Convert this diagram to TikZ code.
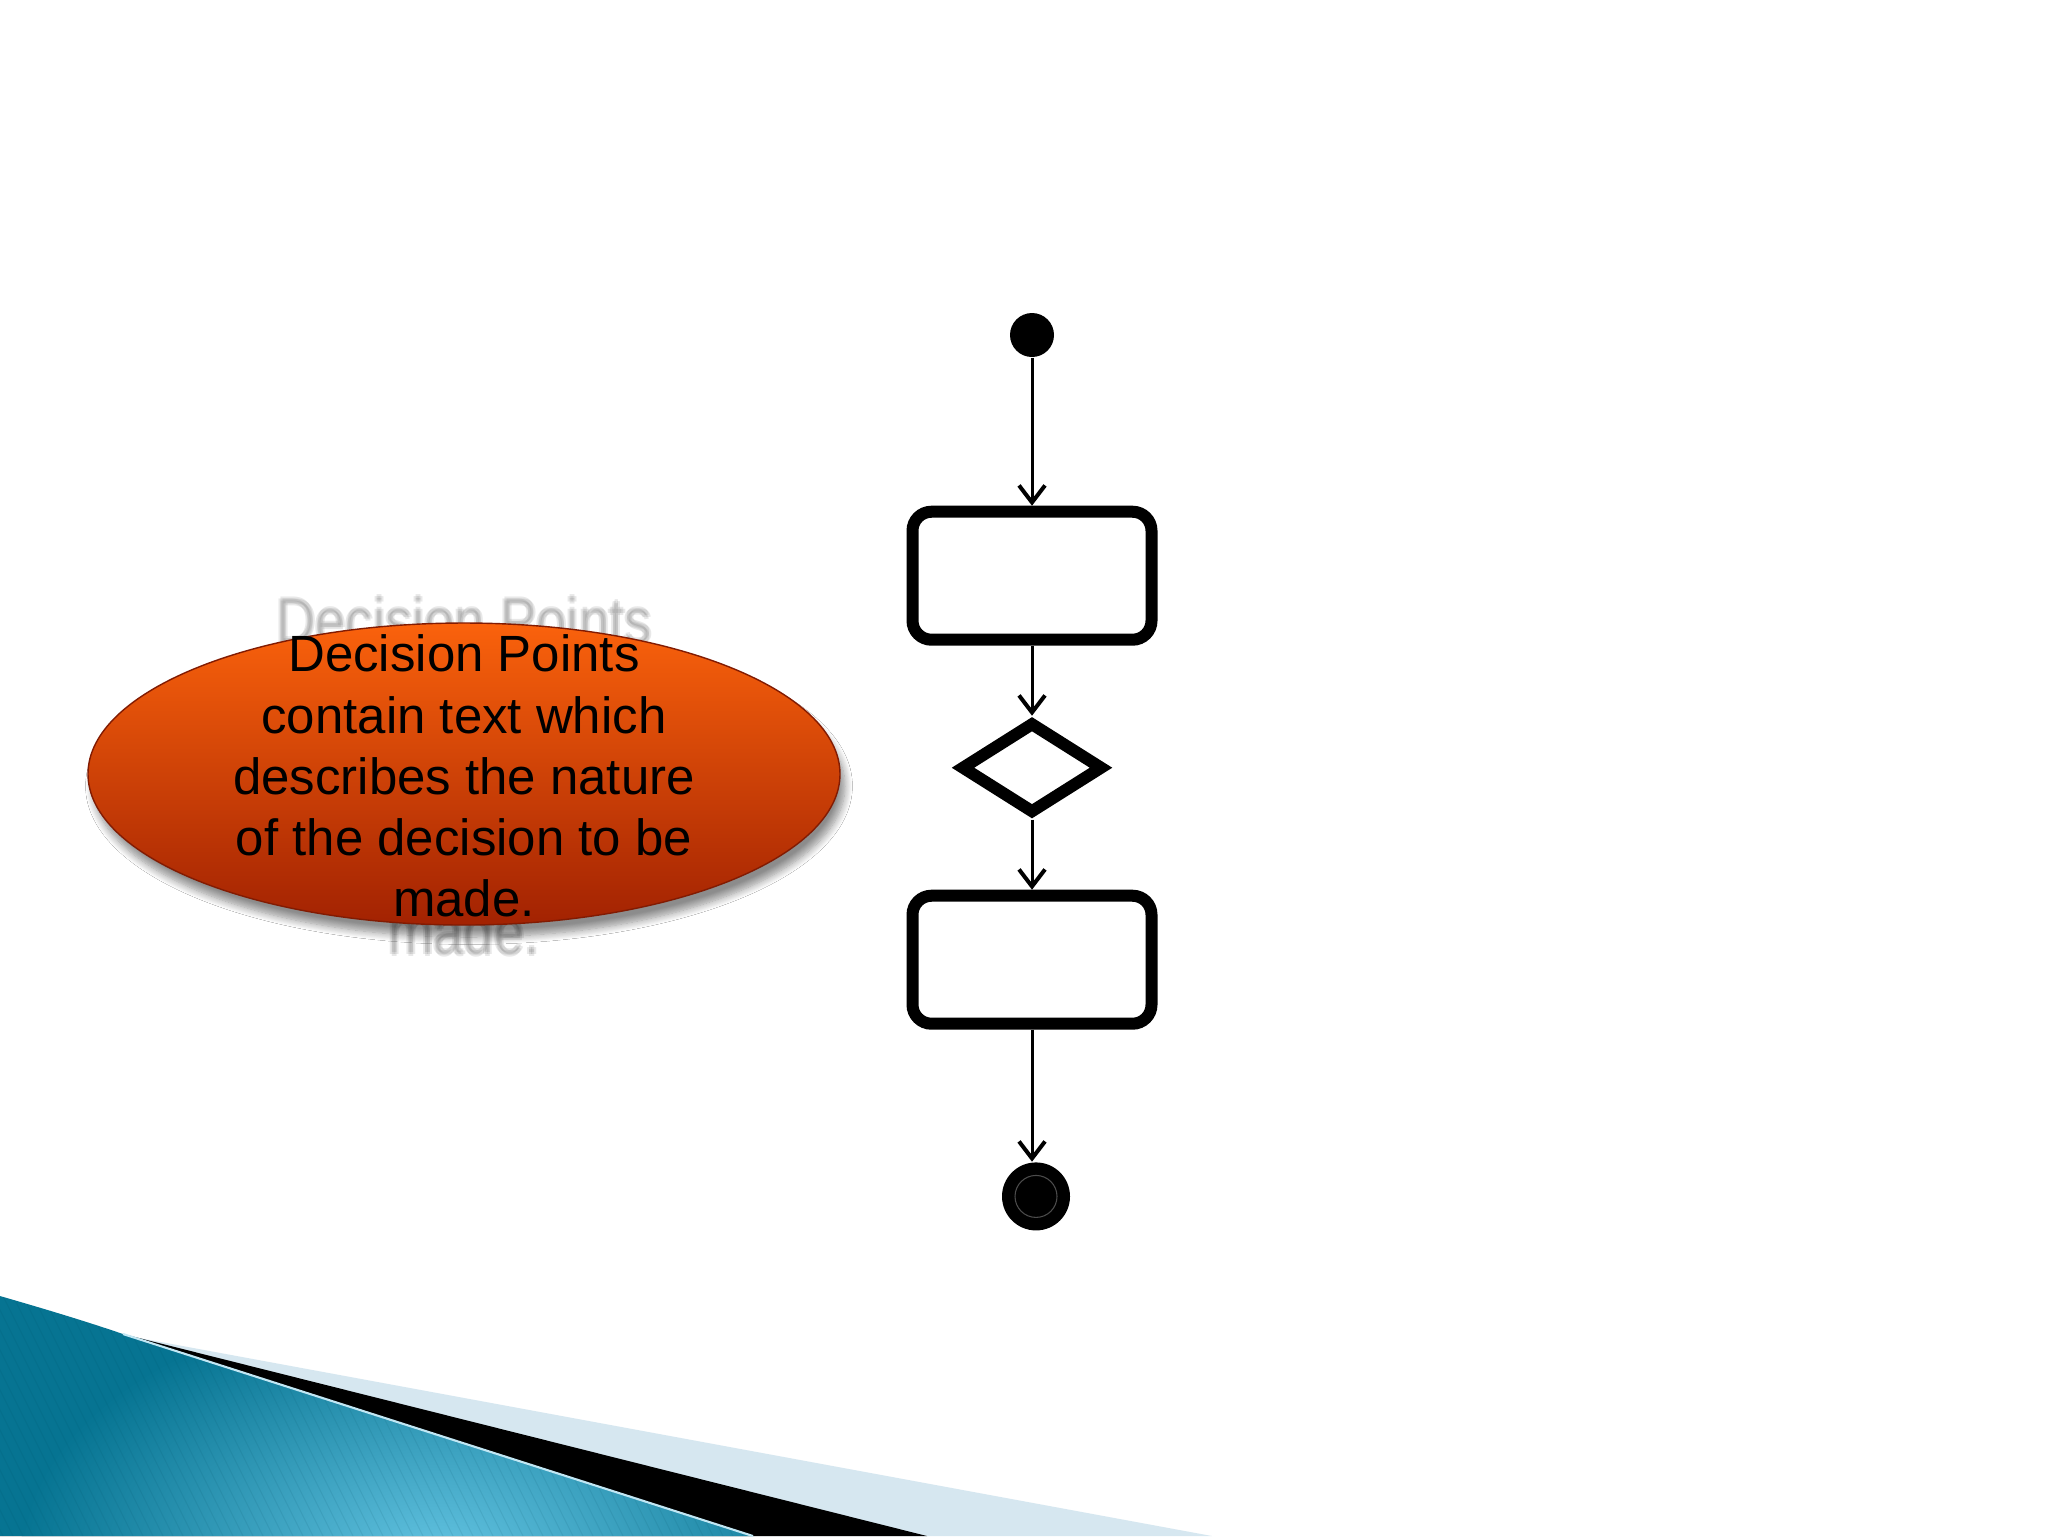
\documentclass[tikz,border=0pt]{standalone}
\usepackage{fontspec}
\setmainfont{Liberation Sans}
\usetikzlibrary{
    arrows.meta,
    positioning,
    shapes.geometric,
    shadows.blur
}
\def\vsepa{14.8mm}
\def\vsepb{7mm}
\def\vsepc{13.2mm}
\definecolor{orangetop}{RGB}{250,98,12}
\definecolor{orangemid}{RGB}{226,66,2}
\definecolor{orangebot}{RGB}{162,34,2}
\definecolor{tealdark}{RGB}{6,116,146}
\definecolor{teallight}{RGB}{100,196,226}
\definecolor{paleblue}{RGB}{214,231,240}
\tikzset{
    initial/.style={
        circle,
        fill=black,
        inner sep=0pt,
        minimum size=4.4mm,
    },
    final/.style={
        circle,
        fill=black,
        inner sep=0pt,
        minimum size=6.8mm,
        path picture={
            \draw[black!70!white, line width=0.3pt] (path picture bounding box.center) circle (2.1mm);
        },
    },
    activity/.style={
        draw,
        line width=1.2mm,
        outer sep=0.6mm,
        rounded corners=1.9mm,
        minimum width=23.9mm,
        minimum height=12.8mm,
    },
    decision/.style={
        diamond,
        draw,
        line width=1.2mm,
        outer sep=0.6mm,
        inner sep=0pt,
        minimum width=14.3mm,
        minimum height=9.2mm,
    },
    flow/.style={
        line width=0.3mm,
        -{Straight Barb[length=1.7mm, width=2.6mm, line width=0.4mm]}
    },
    note/.style={
        ellipse,
        inner sep=0pt,
        minimum width=75.2mm,
        minimum height=30.2mm,
        draw=orangebot!80!black,
        line width=0.4pt,
        top color=orangetop,
        middle color=orangemid,
        bottom color=orangebot,
        blur shadow={shadow xshift=0.5mm, shadow yshift=-1.2mm, shadow blur steps=10, shadow opacity=45},
    },
    notetext/.style={
        align=center,
        inner sep=0pt,
        font=\fontsize{14.5}{17.4}\selectfont,
    },
}

\begin{document}
\begin{tikzpicture}[x=0.1mm, y=-0.1mm]
    \useasboundingbox (0,0) rectangle (2048,1536);
    \fill[white] (0,0) rectangle (2048,1536);

    \fill[paleblue] (123,1335) -- (1212,1536) -- (0,1536) -- cycle;
    \fill[black] (123,1334) -- (927,1536) -- (0,1536) -- cycle;
    \begin{scope}
        \clip (0,1296) .. controls (45,1309) and (85,1321) .. (123,1334) -- (753,1536) -- (0,1536) -- cycle;
        \fill[tealdark] (0,1290) rectangle (760,1536);
        \shade[inner color=teallight, outer color=tealdark] (440,1560) ellipse (420 and 260);
        \foreach \x in {-700,-690,...,800}
            \draw[tealdark!60!black, opacity=0.1, line width=0.3pt] (\x,1290) -- (\x+125,1540);
    \end{scope}
    \draw[white!60!teallight, line width=0.6pt] (123,1334) -- (753,1536);

    \begin{scope}[shift={(464,776)}]
        \foreach \dx/\dy in {-2/0, 2/0, 0/-2, 0/2}
            \node[notetext, text=gray!80!black, opacity=0.15, xscale=1.07, yscale=1.27, transform shape]
                at (\dx,\dy) {Decision Points\\ contain text which\\ describes the nature\\ of the decision to be\\ made.};
    \end{scope}

    \node[note] (note) at (464,774) {};
    \node[notetext] (notetext) at (464,776) {Decision Points\\ contain text which\\ describes the nature\\ of the decision to be\\ made.};

    \node[initial] (start) at (1032,335) {};
    \node[activity, below=\vsepa of start] (act1) {};
    \node[decision, below=\vsepb of act1] (choice) {};
    \node[activity, below=\vsepb of choice] (act2) {};
    \node[final, below=\vsepc of act2, xshift=0.4mm] (stop) {};

    \foreach \a/\b in {start/act1, act1/choice, choice/act2}
        \draw[flow] (\a) -- (\b);
    \draw[flow] (act2) -- (act2 |- stop.north);
\end{tikzpicture}
\end{document}
